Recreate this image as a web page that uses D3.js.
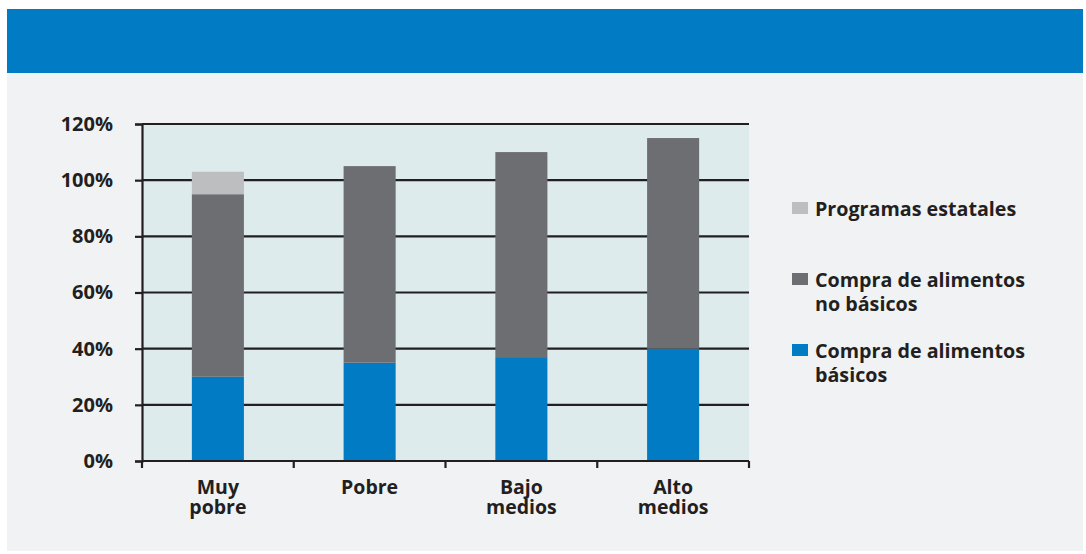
<!DOCTYPE html>
<html>
<head>
<meta charset="utf-8">
<script src="https://cdn.jsdelivr.net/npm/d3@7"></script>
<style>
  body { margin: 0; background: #fff; }
  svg { display: block; font-family: "Open Sans", "Noto Sans", sans-serif; font-weight: bold; }
</style>
</head>
<body>
<div id="chart"></div>
<script>
// data
const categories = [["Muy", "pobre"], ["Pobre"], ["Bajo", "medios"], ["Alto", "medios"]]
const basicos = [30, 35, 37, 40]
const noBasicos = [65, 70, 73, 75]
const programas = [8, 0, 0, 0]
const yTicks = [0, 20, 40, 60, 80, 100, 120]
const legendLines = [["Programas estatales"], ["Compra de alimentos", "no básicos"], ["Compra de alimentos", "básicos"]]

const colors = ["#007BC4", "#6D6E71", "#BCBEC0"]
const width = 1086, height = 554
const margin = { top: 124, bottom: 93, left: 142, right: 337 }

const svg = d3.select("#chart").append("svg")
    .attr("width", width)
    .attr("height", height)

// panel + banner
svg.append("rect").attr("x", 7).attr("y", 9).attr("width", 1076).attr("height", 542).attr("fill", "#F1F2F4")
svg.append("rect").attr("x", 7).attr("y", 9).attr("width", 1076).attr("height", 64).attr("fill", "#007BC4")

const x = d3.scaleBand()
    .domain(d3.range(categories.length))
    .range([margin.left, width - margin.right])
    .paddingInner(0.657)
    .paddingOuter(0.3285)

const y = d3.scaleLinear()
    .domain([0, 120])
    .range([height - margin.bottom, margin.top])

svg.append("rect")
    .attr("x", margin.left)
    .attr("y", y(120))
    .attr("width", width - margin.right - margin.left)
    .attr("height", y(0) - y(120))
    .attr("fill", "#DEEBEC")

// gridlines
svg.append("g")
    .selectAll("line")
    .data(yTicks.slice(1))
    .join("line")
    .attr("x1", margin.left)
    .attr("x2", width - margin.right)
    .attr("y1", d => y(d))
    .attr("y2", d => y(d))
    .attr("stroke", "#231F20")
    .attr("stroke-width", 2.2)

const rows = categories.map((c, i) => ({ i, basicos: basicos[i], noBasicos: noBasicos[i], programas: programas[i] }))
const stack = d3.stack().keys(["basicos", "noBasicos", "programas"])(rows)

svg.append("g")
    .selectAll("g")
    .data(stack)
    .join("g")
    .attr("fill", (d, i) => colors[i])
    .selectAll("rect")
    .data(d => d)
    .join("rect")
    .attr("x", d => x(d.data.i))
    .attr("y", d => y(d[1]))
    .attr("height", d => y(d[0]) - y(d[1]))
    .attr("width", x.bandwidth())

// y axis
const yAxis = svg.append("g")
    .attr("transform", `translate(${margin.left},0)`)
    .call(d3.axisLeft(y).tickValues(yTicks).tickFormat(d => d + "%").tickSize(7).tickPadding(22))
yAxis.select(".domain").attr("stroke", "#231F20").attr("stroke-width", 2.2)
yAxis.selectAll(".tick line").attr("stroke", "#231F20").attr("stroke-width", 2.2)
yAxis.selectAll(".tick text")
    .attr("fill", "#231F20")
    .style("font-size", "20px")
    .style("font-family", "'Open Sans', sans-serif")
    .style("font-weight", "bold")

// x axis line + ticks at band edges
const edges = d3.range(categories.length + 1).map(i => margin.left + i * x.step())
svg.append("line")
    .attr("x1", margin.left).attr("x2", width - margin.right)
    .attr("y1", y(0)).attr("y2", y(0))
    .attr("stroke", "#231F20").attr("stroke-width", 2.2)
svg.append("g")
    .selectAll("line")
    .data(edges)
    .join("line")
    .attr("x1", d => d).attr("x2", d => d)
    .attr("y1", y(0)).attr("y2", y(0) + 7)
    .attr("stroke", "#231F20").attr("stroke-width", 2.2)

// x labels
svg.append("g")
    .selectAll("text")
    .data(categories)
    .join("text")
    .attr("x", (d, i) => x(i) + x.bandwidth() / 2)
    .attr("y", 494)
    .attr("text-anchor", "middle")
    .attr("fill", "#231F20")
    .style("font-size", "19.5px")
    .selectAll("tspan")
    .data(d => d)
    .join("tspan")
    .attr("x", function () { return this.parentNode.getAttribute("x") })
    .attr("dy", (d, i) => i === 0 ? 0 : 20)
    .text(d => d)

// legend
const legendY = [216, 287, 358]
const legendColor = [colors[2], colors[1], colors[0]]
const lg = svg.append("g")
    .selectAll("g")
    .data(legendLines)
    .join("g")
    .attr("transform", (d, i) => `translate(792,${legendY[i]})`)
lg.append("rect")
    .attr("x", 0).attr("y", -14)
    .attr("width", 16).attr("height", 12)
    .attr("fill", (d, i) => legendColor[i])
lg.append("text")
    .attr("fill", "#231F20")
    .style("font-size", "19.7px")
    .selectAll("tspan")
    .data(d => d)
    .join("tspan")
    .attr("x", 23)
    .attr("dy", (d, i) => i === 0 ? 0 : 24)
    .text(d => d)
</script>
</body>
</html>
